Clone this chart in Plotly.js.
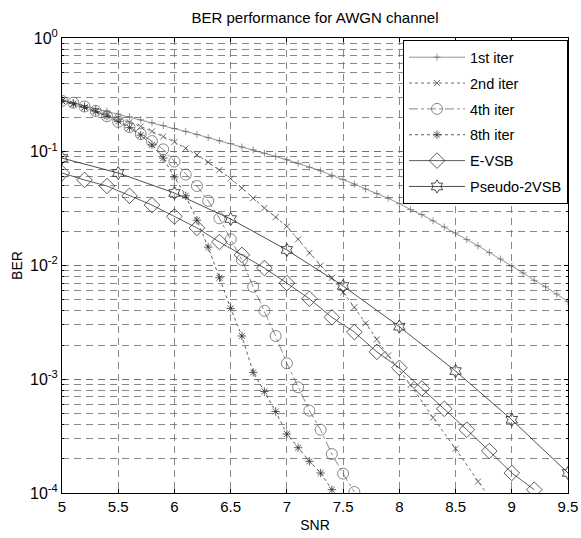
<!DOCTYPE html>
<html><head><meta charset="utf-8">
<script src="https://cdn.plot.ly/plotly-3.0.1.min.js"></script>
<style>html,body{margin:0;padding:0;background:#fff}#plot{width:581px;height:538px}</style>
</head><body><div id="plot"></div>
<script>
// ---- data ----
const snrIter1 = [5.0,5.1,5.2,5.3,5.4,5.5,5.6,5.7,5.8,5.9,6.0,6.1,6.2,6.3,6.4,6.5,6.6,6.7,6.8,6.9,7.0,7.1,7.2,7.3,7.4,7.5,7.6,7.7,7.8,7.9,8.0,8.1,8.2,8.3,8.4,8.5,8.6,8.7,8.8,8.9,9.0,9.1,9.2,9.3,9.4,9.5];
const berIter1 = [0.285,0.269,0.255,0.240,0.228,0.215,0.203,0.191,0.180,0.170,0.160,0.151,0.142,0.133,0.125,0.118,0.110,0.104,0.097,0.091,0.085,0.079,0.073,0.068,0.062,0.057,0.052,0.047,0.043,0.039,0.035,0.031,0.028,0.0247,0.0218,0.0193,0.0169,0.0149,0.0130,0.0114,0.0099,0.0086,0.0074,0.0065,0.0056,0.0048];

const snrIter2 = [5.0,5.1,5.2,5.3,5.4,5.5,5.6,5.7,5.8,5.9,6.0,6.1,6.2,6.3,6.4,6.5,6.6,6.7,6.8,6.9,7.0,7.1,7.2,7.3,7.4,7.5,7.6,7.7,7.8,7.9,8.1,8.3,8.5,8.7,8.9];
const berIter2 = [0.280,0.262,0.245,0.228,0.212,0.197,0.182,0.167,0.151,0.136,0.122,0.107,0.094,0.081,0.069,0.058,0.048,0.039,0.032,0.0266,0.022,0.017,0.0129,0.0100,0.0078,0.0058,0.0043,0.0031,0.00224,0.00162,0.00089,0.00046,0.000245,0.000126,0.000066];

const snrIter4 = [5.0,5.1,5.2,5.3,5.4,5.5,5.6,5.7,5.8,5.9,6.0,6.1,6.2,6.3,6.4,6.5,6.6,6.7,6.8,6.9,7.0,7.1,7.2,7.3,7.4,7.5,7.6];
const berIter4 = [0.280,0.270,0.250,0.228,0.205,0.183,0.165,0.143,0.124,0.105,0.082,0.063,0.050,0.037,0.026,0.017,0.0112,0.0065,0.0040,0.0024,0.00138,0.00085,0.00053,0.00036,0.00022,0.000148,0.000102];

const snrIter8 = [5.0,5.1,5.2,5.3,5.4,5.5,5.6,5.7,5.8,5.9,6.0,6.1,6.2,6.3,6.4,6.5,6.6,6.7,6.8,6.9,7.0,7.1,7.2,7.3,7.4];
const berIter8 = [0.280,0.265,0.245,0.225,0.205,0.185,0.163,0.140,0.115,0.088,0.060,0.041,0.025,0.0145,0.0078,0.0042,0.0024,0.00115,0.00078,0.00052,0.00033,0.00025,0.00019,0.00015,0.000107];

const snrEvsb = [5.0,5.2,5.4,5.6,5.8,6.0,6.2,6.4,6.6,6.8,7.0,7.2,7.4,7.6,7.8,8.0,8.2,8.4,8.6,8.8,9.0,9.2];
const berEvsb = [0.065,0.0565,0.050,0.041,0.034,0.027,0.0214,0.0161,0.0124,0.0095,0.0070,0.0051,0.0035,0.0026,0.00174,0.00126,0.00083,0.00055,0.00036,0.000234,0.00015,0.000107];

const snrPseudo = [5.0,5.5,6.0,6.5,7.0,7.5,8.0,8.5,9.0,9.5];
const berPseudo = [0.088,0.065,0.0434,0.0256,0.0137,0.0066,0.0029,0.00118,0.00044,0.00015];

const seriesNames = ['1st iter','2nd iter','4th iter','8th iter','E-VSB','Pseudo-2VSB'];
const yTickVals = [1e-4,1e-3,1e-2,1e-1,1];
const yTickText = ['10<sup>-4</sup>','10<sup>-3</sup>','10<sup>-2</sup>','10<sup>-1</sup>','10<sup>0</sup>'];
const xTickVals = [5,5.5,6,6.5,7,7.5,8,8.5,9,9.5];
const xTickText = ['5','5.5','6','6.5','7','7.5','8','8.5','9','9.5'];

// ---- styles ----
const FONT = 'Liberation Sans, Arial, sans-serif';
function tr(x, y, name, dash, symbol, size, grp, col, w) {
  return {
    x: x, y: y, name: name, type: 'scatter', mode: 'lines+markers',
    legendgroup: grp,
    line: {color: col, width: w, dash: dash},
    marker: {symbol: symbol, size: size, color: col, line: {color: col, width: w}},
    cliponaxis: true
  };
}
const data = [
  tr(snrIter1, berIter1, seriesNames[0], 'solid', 'cross-thin-open', 5, 'g1', '#666', 0.7),
  tr(snrIter2, berIter2, seriesNames[1], 'dot', 'x-thin-open', 6, 'g2', '#444', 0.8),
  tr(snrIter4, berIter4, seriesNames[2], 'dashdot', 'circle-open', 11, 'g3', '#555', 0.7),
  tr(snrIter8, berIter8, seriesNames[3], 'dot', 'asterisk-open', 7, 'g4', '#333', 0.8),
  tr(snrEvsb, berEvsb, seriesNames[4], 'solid', 'diamond-open', 12, 'g5', '#333', 0.8),
  tr(snrPseudo, berPseudo, seriesNames[5], 'solid', 'hexagram-open', 10, 'g6', '#222', 0.8)
];

const gridC = '#6a6a6a';
const GD = '7px,5px';
const layout = {
  width: 581, height: 538,
  margin: {l: 62, r: 13, t: 38, b: 45, pad: 0},
  paper_bgcolor: '#fff', plot_bgcolor: '#fff',
  font: {family: FONT, size: 14, color: '#000'},
  title: {text: 'BER performance for AWGN channel', font: {family: FONT, size: 15, color: '#000'},
          x: 0.5, xref: 'paper', y: 0.967, yref: 'container', yanchor: 'middle'},
  showlegend: true,
  legend: {x: 1, xanchor: 'right', y: 0.995, yanchor: 'top', bgcolor: '#fff',
           bordercolor: '#000', borderwidth: 1, font: {family: FONT, size: 14.5, color: '#000'},
           tracegroupgap: 4, itemwidth: 56},
  xaxis: {
    range: [5, 9.5], tickmode: 'array', tickvals: xTickVals, ticktext: xTickText,
    showgrid: true, gridcolor: gridC, gridwidth: 0.8, griddash: GD,
    showline: true, linecolor: '#000', linewidth: 1, mirror: 'ticks',
    ticks: 'inside', ticklen: 4, tickcolor: '#000', zeroline: false,
    tickfont: {family: FONT, size: 15, color: '#000'},
    title: {text: 'SNR', font: {family: FONT, size: 14, color: '#000'}, standoff: 6}
  },
  yaxis: {
    type: 'log', range: [-4, 0], tickmode: 'array', tickvals: yTickVals, ticktext: yTickText,
    showgrid: true, gridcolor: gridC, gridwidth: 0.8, griddash: GD,
    minor: {dtick: 'D1', showgrid: true, gridcolor: gridC, gridwidth: 0.8, griddash: GD,
            ticks: 'inside', ticklen: 2, tickcolor: '#000'},
    showline: true, linecolor: '#000', linewidth: 1, mirror: 'ticks',
    ticks: 'inside', ticklen: 4, tickcolor: '#000', zeroline: false,
    tickfont: {family: FONT, size: 16, color: '#000'},
    title: {text: 'BER', font: {family: FONT, size: 14, color: '#000'}, standoff: 4}
  }
};
Plotly.newPlot('plot', data, layout, {displayModeBar: false, staticPlot: true});
</script>
</body></html>
